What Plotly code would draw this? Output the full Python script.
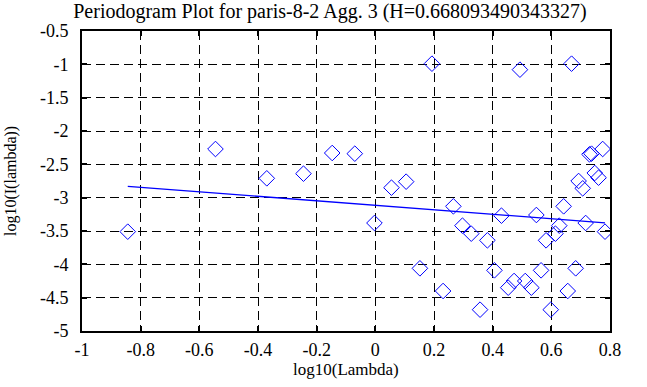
import plotly.graph_objects as go

title_text = "Periodogram Plot for paris-8-2 Agg. 3 (H=0.668093490343327)"
x_label = "log10(Lambda)"
y_label = "log10(I(lambda))"

log_lambda = [-0.844, -0.545, -0.370, -0.245, -0.147, -0.070, -0.003, 0.055, 0.105,
              0.152, 0.193, 0.231, 0.266, 0.297, 0.327, 0.357, 0.382, 0.406, 0.430,
              0.453, 0.473, 0.493, 0.511, 0.532, 0.549, 0.565, 0.582, 0.598, 0.614,
              0.627, 0.642, 0.656, 0.669, 0.683, 0.693, 0.707, 0.717, 0.730, 0.737,
              0.748, 0.761, 0.775, 0.783]
log_I = [-3.51, -2.27, -2.71, -2.64, -2.33, -2.34, -3.38, -2.85, -2.76,
         -4.06, -0.99, -4.40, -3.13, -3.42, -3.54, -4.68, -3.64, -4.09, -3.27,
         -4.35, -4.25, -1.08, -4.25, -4.35, -3.26, -4.09, -3.64, -4.68, -3.54,
         -3.42, -3.13, -4.40, -0.99, -4.06, -2.75, -2.86, -3.38, -2.35, -2.34,
         -2.63, -2.70, -2.27, -3.51]

fit_x = [-0.844, 0.783]
fit_y = [-2.830, -3.377]

x_ticks = [-1, -0.8, -0.6, -0.4, -0.2, 0, 0.2, 0.4, 0.6, 0.8]
x_tick_text = ["-1", "-0.8", "-0.6", "-0.4", "-0.2", "0", "0.2", "0.4", "0.6", "0.8"]
y_ticks = [-0.5, -1, -1.5, -2, -2.5, -3, -3.5, -4, -4.5, -5]
y_tick_text = ["-0.5", "-1", "-1.5", "-2", "-2.5", "-3", "-3.5", "-4", "-4.5", "-5"]

font_family = "Liberation Serif, Times New Roman, serif"

fig = go.Figure()
fig.add_trace(go.Scatter(x=log_lambda, y=log_I, mode="markers",
                         marker=dict(symbol="diamond-open", size=12, color="#0000ff",
                                     line=dict(width=1, color="#0000ff")),
                         showlegend=False))
fig.add_trace(go.Scatter(x=fit_x, y=fit_y, mode="lines",
                         line=dict(color="#0000ff", width=1.3), showlegend=False))

axis_common = dict(showline=True, linecolor="black", linewidth=2, mirror="ticks",
                   ticks="inside", ticklen=5, tickwidth=2, tickcolor="black",
                   showgrid=True, gridcolor="black", gridwidth=1, griddash="9px,5px",
                   zeroline=False, automargin=False,
                   tickfont=dict(family=font_family, size=18, color="black"))

fig.update_layout(
    width=647, height=387,
    margin=dict(l=82, r=37, t=31, b=56),
    paper_bgcolor="white", plot_bgcolor="white",
    title=dict(text=title_text, x=0.51, xanchor="center", y=0.99, yanchor="top",
               font=dict(family=font_family, size=20, color="black")),
    xaxis=dict(range=[-1, 0.8], tickvals=x_ticks, ticktext=x_tick_text,
               ticklabelstandoff=1, **axis_common),
    yaxis=dict(range=[-5, -0.5], tickvals=y_ticks, ticktext=y_tick_text,
               ticklabelstandoff=8, **axis_common),
    annotations=[
        dict(text=x_label, xref="paper", yref="paper", x=0.5, y=-0.13,
             xanchor="center", yanchor="middle", showarrow=False,
             font=dict(family=font_family, size=17, color="black")),
        dict(text=y_label, xref="paper", yref="paper", x=-0.1345, y=0.5,
             xanchor="center", yanchor="middle", textangle=-90, showarrow=False,
             font=dict(family=font_family, size=16, color="black")),
    ],
)

fig.write_html("out.html", config={"displayModeBar": False},
               post_script="document.body.style.margin='0';")
